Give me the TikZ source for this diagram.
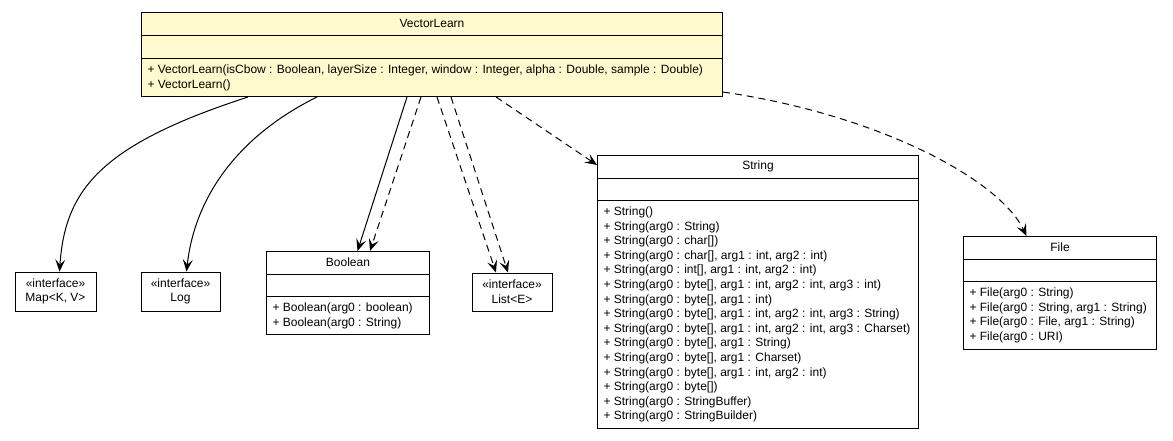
\documentclass[tikz,border=0pt]{standalone}
\usepackage{fontspec}
\setmainfont{Liberation Sans}
\usetikzlibrary{calc}
\usetikzlibrary{positioning}
\usetikzlibrary{arrows.meta}

\definecolor{classfill}{RGB}{255,250,205}

\begin{document}
\begin{tikzpicture}[x=1pt, y=1pt, line width=1pt, font=\fontsize{12}{14.6}\selectfont,
    classbox/.style={draw, inner sep=0pt, anchor=north west},
    ifacebox/.style={draw, inner sep=0pt, align=center},
    method/.style={anchor=base west, inner sep=0pt},
    uses/.style={-{Stealth[length=12pt, width=10pt, inset=5pt]}},
    depends/.style={uses, dash pattern=on 7pt off 5pt}]

    \useasboundingbox (0,0) rectangle (1173,-440);

    % VectorLearn
    \node[classbox, fill=classfill, minimum width=581pt, minimum height=84pt] (VL) at (141,-12) {};
    \node (VL-name) at ($(VL.north)+(0,-11.5)$) {VectorLearn};
    \draw ($(VL.north west)+(0,-23)$) -- ($(VL.north east)+(0,-23)$);
    \draw ($(VL.north west)+(0,-46)$) -- ($(VL.north east)+(0,-46)$);
    \node[method] (VL-m1) at ($(VL.north west)+(6,-61.5)$) {+ VectorLearn(isCbow : Boolean, layerSize : Integer, window : Integer, alpha : Double, sample : Double)};
    \node[method] (VL-m2) at ($(VL-m1.base west)+(0,-14.6)$) {+ VectorLearn()};

    % interfaces
    \node[ifacebox, minimum width=81pt, minimum height=39pt] (Map) at (55.5,-291.5) {«interface»\\Map<K, V>};
    \node[ifacebox, minimum width=79pt, minimum height=39pt] (Log) at (180.5,-291.5) {«interface»\\Log};
    \node[ifacebox, minimum width=80pt, minimum height=38pt] (List) at (512,-292) {«interface»\\List<E>};

    % Boolean
    \node[classbox, minimum width=163pt, minimum height=83pt] (Boolean) at (266,-251) {};
    \node (Boolean-name) at ($(Boolean.north)+(0,-11.5)$) {Boolean};
    \draw ($(Boolean.north west)+(0,-23)$) -- ($(Boolean.north east)+(0,-23)$);
    \draw ($(Boolean.north west)+(0,-45)$) -- ($(Boolean.north east)+(0,-45)$);
    \node[method] (Boolean-m1) at ($(Boolean.north west)+(6,-60.5)$) {+ Boolean(arg0 : boolean)};
    \node[method] (Boolean-m2) at ($(Boolean-m1.base west)+(0,-14.6)$) {+ Boolean(arg0 : String)};

    % String
    \node[classbox, minimum width=321pt, minimum height=273pt] (String) at (597,-155) {};
    \node (String-name) at ($(String.north)+(0,-11.5)$) {String};
    \draw ($(String.north west)+(0,-23)$) -- ($(String.north east)+(0,-23)$);
    \draw ($(String.north west)+(0,-45)$) -- ($(String.north east)+(0,-45)$);
    \foreach \m [count=\i] in {{+ String()}, {+ String(arg0 : String)}, {+ String(arg0 : char[])},
        {+ String(arg0 : char[], arg1 : int, arg2 : int)}, {+ String(arg0 : int[], arg1 : int, arg2 : int)},
        {+ String(arg0 : byte[], arg1 : int, arg2 : int, arg3 : int)}, {+ String(arg0 : byte[], arg1 : int)},
        {+ String(arg0 : byte[], arg1 : int, arg2 : int, arg3 : String)},
        {+ String(arg0 : byte[], arg1 : int, arg2 : int, arg3 : Charset)},
        {+ String(arg0 : byte[], arg1 : String)}, {+ String(arg0 : byte[], arg1 : Charset)},
        {+ String(arg0 : byte[], arg1 : int, arg2 : int)}, {+ String(arg0 : byte[])},
        {+ String(arg0 : StringBuffer)}, {+ String(arg0 : StringBuilder)}}
        \node[method] (String-m\i) at ($(String.north west)+(6,-60.5-14.6*\i+14.6)$) {\m};

    % File
    \node[classbox, minimum width=193pt, minimum height=113pt] (File) at (963,-236) {};
    \node (File-name) at ($(File.north)+(0,-11.5)$) {File};
    \draw ($(File.north west)+(0,-23)$) -- ($(File.north east)+(0,-23)$);
    \draw ($(File.north west)+(0,-45)$) -- ($(File.north east)+(0,-45)$);
    \foreach \m [count=\i] in {{+ File(arg0 : String)}, {+ File(arg0 : String, arg1 : String)},
        {+ File(arg0 : File, arg1 : String)}, {+ File(arg0 : URI)}}
        \node[method] (File-m\i) at ($(File.north west)+(6,-60.5-14.6*\i+14.6)$) {\m};

    % connectors
    \draw[uses] ($(VL.south west)+(107,0)$) .. controls (100,-145) and (65,-190) .. ($(Map.north)+(4,0)$);
    \draw[uses] ($(VL.south west)+(176,0)$) .. controls (240,-135) and (195,-195) .. ($(Log.north)+(6,0)$);
    \draw[uses] ($(VL.south west)+(266,0)$) -- ($(Boolean.north)+(9.5,0)$);
    \draw[depends] ($(VL.south west)+(280,0)$) -- ($(Boolean.north)+(22,0)$);
    \draw[depends] ($(VL.south west)+(296,0)$) -- ($(List.north)+(-16,0)$);
    \draw[depends] ($(VL.south west)+(310,0)$) -- ($(List.north)+(-4,0)$);
    \draw[depends] ($(VL.south west)+(355,0)$) -- ($(String.north west)+(0,-10)$);
    \draw[depends] ($(VL.south east)+(0,5)$) .. controls (880,-115) and (1000,-180) .. ($(File.north)+(-33.5,0)$);

\end{tikzpicture}
\end{document}
